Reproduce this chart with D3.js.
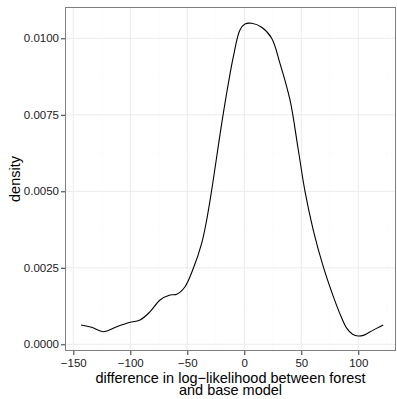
<!DOCTYPE html>
<html>
<head>
<meta charset="utf-8">
<script src="https://cdn.jsdelivr.net/npm/d3@7"></script>
<style>
  body { margin: 0; background: #fff; }
  text { font-family: "Liberation Sans", Arial, sans-serif; }
</style>
</head>
<body>
<div class="chart"></div>
<script>
var svgWidth = 397;
var svgHeight = 399;

// density curve
var diffValues = [-143.2, -133.9, -123.7, -111.9, -101.8, -91.5, -82.7, -73.9, -65.2, -59.3, -52.0,
  -44.7, -37.4, -33.0, -28.6, -18.4, -9.6, -3.8, 0.6, 6.5, 15.3, 24.0, 31.3, 40.1, 47.4, 53.3,
  60.5, 69.3, 78.7, 85.0, 90.0, 95.0, 100.0, 105.0, 110.0, 116.0, 121.9];
var densityValues = [0.000631, 0.000556, 0.000412, 0.000575, 0.000706, 0.000794, 0.001065, 0.001448,
  0.001611, 0.001634, 0.001882, 0.002484, 0.003301, 0.004062, 0.005042, 0.007549, 0.009399, 0.010271,
  0.010467, 0.010490, 0.010359, 0.010000, 0.009183, 0.007984, 0.006350, 0.004987, 0.003735, 0.002536,
  0.001500, 0.000900, 0.000520, 0.000330, 0.000270, 0.000300, 0.000400, 0.000520, 0.000631];

var xTicks = [-150, -100, -50, 0, 50, 100];
var xMinor = [-125, -75, -25, 25, 75, 125];
var yTicks = [0, 0.0025, 0.005, 0.0075, 0.01];
var yMinor = [0.00125, 0.00375, 0.00625, 0.00875];

var data = diffValues.map(function(d, i) { return { x: d, y: densityValues[i] }; });

var panel = { left: 65, right: 396, top: 7, bottom: 351 };

var svg = d3.select(".chart")
  .append("svg")
  .attr("width", svgWidth)
  .attr("height", svgHeight);

var xScale = d3.scaleLinear()
  .domain([-157.3, 133.1])
  .range([panel.left, panel.right]);

var yScale = d3.scaleLinear()
  .domain([-0.000219, 0.011023])
  .range([panel.bottom, panel.top]);

var minus = function(s) { return s.replace("-", "\u2212"); };

// grid lines
var grid = svg.append("g");
grid.selectAll(".xminor").data(xMinor.filter(function(d) { return xScale(d) < panel.right; }))
  .enter().append("line")
  .attr("x1", d => xScale(d)).attr("x2", d => xScale(d))
  .attr("y1", panel.top).attr("y2", panel.bottom)
  .attr("stroke", "#fafafa").attr("stroke-width", 0.5);
grid.selectAll(".yminor").data(yMinor)
  .enter().append("line")
  .attr("x1", panel.left).attr("x2", panel.right)
  .attr("y1", d => yScale(d)).attr("y2", d => yScale(d))
  .attr("stroke", "#fafafa").attr("stroke-width", 0.5);
grid.selectAll(".xmajor").data(xTicks)
  .enter().append("line")
  .attr("x1", d => xScale(d)).attr("x2", d => xScale(d))
  .attr("y1", panel.top).attr("y2", panel.bottom)
  .attr("stroke", "#ebebeb").attr("stroke-width", 1);
grid.selectAll(".ymajor").data(yTicks)
  .enter().append("line")
  .attr("x1", panel.left).attr("x2", panel.right)
  .attr("y1", d => yScale(d)).attr("y2", d => yScale(d))
  .attr("stroke", "#ebebeb").attr("stroke-width", 1);

// density line
var line = d3.line()
  .x(d => xScale(d.x))
  .y(d => yScale(d.y))
  .curve(d3.curveCatmullRom);

svg.append("path")
  .datum(data)
  .attr("d", line)
  .attr("fill", "none")
  .attr("stroke", "#000")
  .attr("stroke-width", 1.1);

// panel border
svg.append("rect")
  .attr("x", panel.left + 0.5).attr("y", panel.top + 0.5)
  .attr("width", panel.right - panel.left - 1).attr("height", panel.bottom - panel.top - 1)
  .attr("fill", "none").attr("stroke", "#7f7f7f").attr("stroke-width", 1);

// axes
var bottomAxis = d3.axisBottom(xScale)
  .tickValues(xTicks)
  .tickSize(4)
  .tickPadding(3.5)
  .tickFormat(d => minus(d3.format("d")(d)));
var leftAxis = d3.axisLeft(yScale)
  .tickValues(yTicks)
  .tickSize(4)
  .tickPadding(2)
  .tickFormat(d3.format(".4f"));

var gx = svg.append("g")
  .attr("transform", `translate(0, ${panel.bottom})`)
  .call(bottomAxis);
var gy = svg.append("g")
  .attr("transform", `translate(${panel.left}, 0)`)
  .call(leftAxis);

[gx, gy].forEach(function(g) {
  g.select(".domain").remove();
  g.selectAll(".tick line").attr("stroke", "#333");
  g.selectAll(".tick text").attr("fill", "#1a1a1a").style("font-size", "11.5px");
});

// axis titles
var xTitle = svg.append("text")
  .attr("text-anchor", "middle")
  .style("font-size", "14.5px");
xTitle.append("tspan")
  .attr("x", (panel.left + panel.right) / 2)
  .attr("y", 382.5)
  .text("difference in log\u2212likelihood between forest");
xTitle.append("tspan")
  .attr("x", (panel.left + panel.right) / 2)
  .attr("dy", 12.5)
  .text("and base model");

svg.append("text")
  .attr("transform", `translate(20, ${(panel.top + panel.bottom) / 2}) rotate(-90)`)
  .attr("text-anchor", "middle")
  .style("font-size", "14.5px")
  .text("density");
</script>
</body>
</html>
